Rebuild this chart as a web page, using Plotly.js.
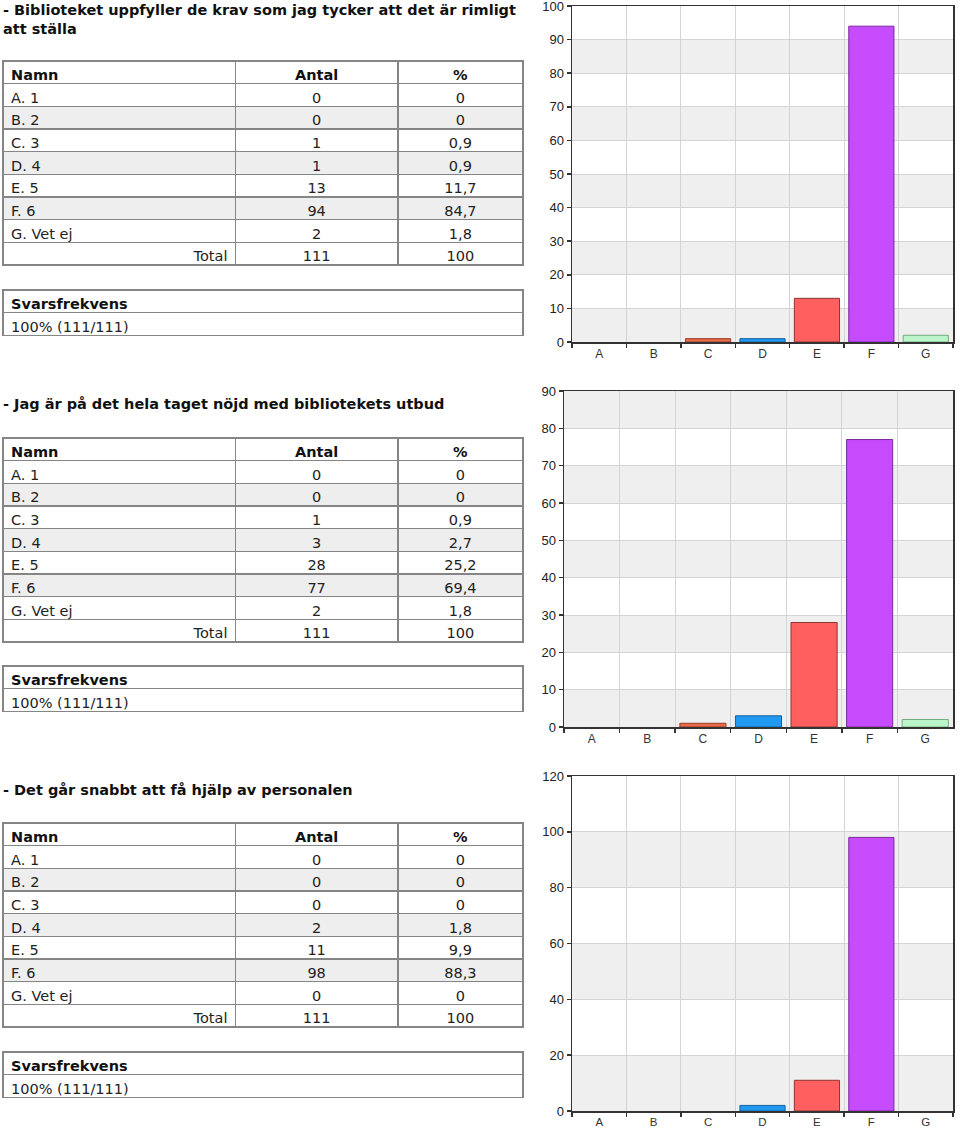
<!DOCTYPE html>
<html>
<head>
<meta charset="utf-8">
<script src="https://cdn.plot.ly/plotly-3.0.1.min.js"></script>
<style>
  html, body { margin: 0; padding: 0; background: #ffffff; }
  #chart { width: 960px; height: 1129px; }
</style>
</head>
<body>
<div id="chart"></div>
<script>
// ---------- data ----------
const categories = ['A', 'B', 'C', 'D', 'E', 'F', 'G'];
const optionNames = ['A. 1', 'B. 2', 'C. 3', 'D. 4', 'E. 5', 'F. 6', 'G. Vet ej'];
const tableHeader = ['Namn', 'Antal', '%'];
const totalLabel = 'Total';
const responseHeader = 'Svarsfrekvens';

const q1Title = '- Biblioteket uppfyller de krav som jag tycker att det är rimligt<br>att ställa';
const q1Counts = [0, 0, 1, 1, 13, 94, 2];
const q1Pct = ['0', '0', '0,9', '0,9', '11,7', '84,7', '1,8'];
const q1Total = ['111', '100'];
const q1Response = '100% (111/111)';
const q1AxisMax = 100, q1Dtick = 10;

const q2Title = '- Jag är på det hela taget nöjd med bibliotekets utbud';
const q2Counts = [0, 0, 1, 3, 28, 77, 2];
const q2Pct = ['0', '0', '0,9', '2,7', '25,2', '69,4', '1,8'];
const q2Total = ['111', '100'];
const q2Response = '100% (111/111)';
const q2AxisMax = 90, q2Dtick = 10;

const q3Title = '- Det går snabbt att få hjälp av personalen';
const q3Counts = [0, 0, 0, 2, 11, 98, 0];
const q3Pct = ['0', '0', '0', '1,8', '9,9', '88,3', '0'];
const q3Total = ['111', '100'];
const q3Response = '100% (111/111)';
const q3AxisMax = 120, q3Dtick = 20;

// ---------- styles ----------
const barColors = ['#f5a142', '#f2e14a', '#e86a4a', '#2199f0', '#ff5f5f', '#c64bfc', '#bdf5cb'];
const barLines  = ['#a36a2a', '#a09530', '#9c3f2a', '#15609e', '#8f3434', '#7a2a9c', '#6fae80'];

const W = 960, H = 1129;
const px = v => v / W;
const py = v => 1 - v / H;

const sections = [
  { title: q1Title, counts: q1Counts, pct: q1Pct, total: q1Total, resp: q1Response, max: q1AxisMax, dtick: q1Dtick,
    titleY: 20, table: [61, 267], respBox: [290, 338], plotX: [572, 953], plotY: [6, 342] },
  { title: q2Title, counts: q2Counts, pct: q2Pct, total: q2Total, resp: q2Response, max: q2AxisMax, dtick: q2Dtick,
    titleY: 404, table: [438, 644], respBox: [666, 714], plotX: [564, 953], plotY: [391, 727] },
  { title: q3Title, counts: q3Counts, pct: q3Pct, total: q3Total, resp: q3Response, max: q3AxisMax, dtick: q3Dtick,
    titleY: 790, table: [823, 1029], respBox: [1052, 1100], plotX: [572, 953], plotY: [776, 1111] }
];

const FONT = 'DejaVu Sans, Verdana, sans-serif';
const AXFONT = 'Liberation Sans, Arial, sans-serif';
const rowH = 22.67;
const rowFills = ['#ffffff', '#eeeeee', '#ffffff', '#eeeeee', '#ffffff', '#eeeeee', '#ffffff', '#ffffff'];
const borderCol = '#858585';

const data = [];
const annotations = [];
const shapes = [];
const layout = {
  width: W, height: H,
  margin: { l: 0, r: 0, t: 0, b: 0 },
  paper_bgcolor: '#ffffff',
  plot_bgcolor: '#ffffff',
  showlegend: false,
  bargap: 0.17,
  annotations: annotations,
  shapes: shapes
};

sections.forEach((s, i) => {
  const n = i === 0 ? '' : String(i + 1);
  const xa = 'x' + n, ya = 'y' + n;

  // title
  annotations.push({
    xref: 'paper', yref: 'paper', x: px(1), y: py(s.titleY),
    xanchor: 'left', yanchor: 'middle', align: 'left', showarrow: false,
    text: '<b>' + s.title.split('<br>').join('</b><br><b>') + '</b>',
    font: { family: FONT, size: 14.5, color: '#111111' }
  });

  // main table
  const col1 = optionNames.concat([totalLabel]);
  const col2 = s.counts.map(String).concat([s.total[0]]);
  const col3 = s.pct.concat([s.total[1]]);
  const align1 = optionNames.map(() => 'left').concat(['right']);
  data.push({
    type: 'table',
    domain: { x: [px(3), px(523)], y: [py(s.table[1]), py(s.table[0])] },
    columnwidth: [232, 162, 125],
    header: {
      values: tableHeader,
      align: ['left', 'center', 'center'],
      height: rowH,
      fill: { color: '#ffffff' },
      line: { color: borderCol, width: 1.5 },
      font: { family: FONT, size: 14.5, color: '#111111', weight: 'bold' }
    },
    cells: {
      values: [col1, col2, col3],
      align: [align1, 'center', 'center'],
      height: rowH,
      fill: { color: [rowFills, rowFills, rowFills] },
      line: { color: borderCol, width: 1.5 },
      font: { family: FONT, size: 14.5, color: '#222222' }
    }
  });

  // response-rate table
  data.push({
    type: 'table',
    domain: { x: [px(3), px(523)], y: [py(s.respBox[1]), py(s.respBox[0])] },
    columnwidth: [1],
    header: {
      values: [responseHeader],
      align: 'left', height: rowH,
      fill: { color: '#ffffff' },
      line: { color: borderCol, width: 1.5 },
      font: { family: FONT, size: 14.5, color: '#111111', weight: 'bold' }
    },
    cells: {
      values: [[s.resp]],
      align: 'left', height: rowH,
      fill: { color: '#ffffff' },
      line: { color: borderCol, width: 1.5 },
      font: { family: FONT, size: 14.5, color: '#222222' }
    }
  });

  // bar chart
  data.push({
    type: 'bar',
    x: categories,
    y: s.counts,
    xaxis: xa, yaxis: ya,
    marker: { color: barColors, line: { color: barLines, width: s.counts.map(v => v > 0 ? 1 : 0) } },
    hoverinfo: 'x+y'
  });

  const tickvals = [];
  for (let v = 0; v <= s.max; v += s.dtick) tickvals.push(v);
  // alternating background bands
  for (let k = 0; k < tickvals.length - 1; k += 2) {
    shapes.push({
      type: 'rect', layer: 'below',
      xref: xa + ' domain', yref: ya,
      x0: 0, x1: 1, y0: tickvals[k], y1: tickvals[k + 1],
      fillcolor: '#efefef', line: { width: 0 }
    });
  }

  layout['xaxis' + n] = {
    domain: [px(s.plotX[0]), px(s.plotX[1])],
    anchor: ya,
    type: 'category',
    categoryarray: categories,
    tickson: 'boundaries',
    ticks: 'outside', ticklen: 4, tickcolor: '#333333', tickwidth: 1.5,
    showgrid: true, gridcolor: '#d4d4d4', gridwidth: 1,
    showline: true, linecolor: '#333333', linewidth: 1.5, mirror: true,
    tickfont: { family: AXFONT, size: i === 2 ? 11.5 : 12, color: '#333333' },
    ticklabeloverflow: 'allow',
    fixedrange: true
  };
  layout['yaxis' + n] = {
    domain: [py(s.plotY[1]), py(s.plotY[0])],
    anchor: xa,
    range: [0, s.max],
    tickmode: 'array', tickvals: tickvals,
    ticks: 'outside', ticklen: 4, tickcolor: '#333333', tickwidth: 1.5,
    showgrid: true, gridcolor: '#d4d4d4', gridwidth: 1,
    zeroline: false,
    showline: true, linecolor: '#333333', linewidth: 1.5, mirror: true,
    tickfont: { family: AXFONT, size: 13, color: '#222222' },
    ticklabeloverflow: 'allow',
    fixedrange: true
  };
});

Plotly.newPlot('chart', data, layout, { staticPlot: true, displayModeBar: false });
</script>
</body>
</html>
